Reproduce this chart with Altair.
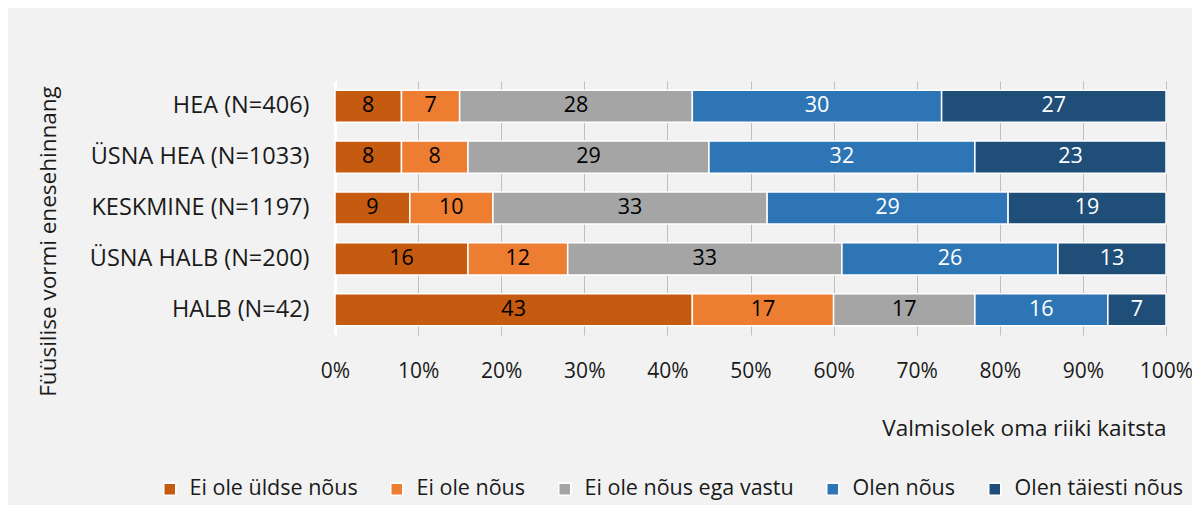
import altair as alt
import pandas as pd

groups = ["HEA (N=406)", "ÜSNA HEA (N=1033)", "KESKMINE (N=1197)", "ÜSNA HALB (N=200)", "HALB (N=42)"]
series = ["Ei ole üldse nõus", "Ei ole nõus", "Ei ole nõus ega vastu", "Olen nõus", "Olen täiesti nõus"]
colors = ["#c55a11", "#ed7d31", "#a5a5a5", "#2e75b6", "#1f4e79"]
text_colors = ["black", "black", "black", "white", "white"]

v_ei_ylde = [8, 8, 9, 16, 43]
v_ei = [7, 8, 10, 12, 17]
v_neutral = [28, 29, 33, 33, 17]
v_nous = [30, 32, 29, 26, 16]
v_taiesti = [27, 23, 19, 13, 7]

values = [v_ei_ylde, v_ei, v_neutral, v_nous, v_taiesti]

rows = []
for si, s in enumerate(series):
    for gi, g in enumerate(groups):
        rows.append({"group": g, "series": s, "order": si, "value": values[si][gi],
                     "tcolor": text_colors[si]})
df = pd.DataFrame(rows)

FONT = "Open Sans"
FS = 21.5

base = alt.Chart(df).transform_stack(
    stack="value", groupby=["group"], as_=["start", "end"], sort=[alt.SortField("order")],
    offset="normalize"
).transform_calculate(mid="(datum.start + datum.end) / 2")

y_enc = alt.Y("group:N", sort=groups,
              scale=alt.Scale(paddingInner=0.37, paddingOuter=0.18),
              axis=alt.Axis(title="Füüsilise vormi enesehinnang", domain=True, domainColor="white",
                            domainWidth=3, ticks=False, labelPadding=26, labelFontSize=23.5,
                            labelColor="#1a1a1a", titleFontSize=22.5, titleFontWeight="normal",
                            titleColor="#1a1a1a", titleX=-287, titleY=160, titleAngle=270,
                            titleAlign="center", titleBaseline="middle", labelFont=FONT,
                            titleFont=FONT, grid=False, labelLimit=400))

bars = base.mark_bar(stroke="white", strokeWidth=1.5).encode(
    x=alt.X("start:Q", scale=alt.Scale(domain=[0, 1], nice=False),
            axis=alt.Axis(format="%", values=[i / 10 for i in range(11)], title="Valmisolek oma riiki kaitsta",
                          domain=False, ticks=False, grid=True, gridColor="#bfbfbf", gridWidth=1,
                          labelPadding=25, labelFontSize=21, labelColor="#1a1a1a", labelFont=FONT,
                          titleFont=FONT, titleFontSize=22.5, titleFontWeight="normal", titleColor="#1a1a1a",
                          titleAnchor="end", titleAlign="right", titleX=831, titleY=93,
                          titleBaseline="middle", labelFlush=False)),
    x2="end:Q",
    y=y_enc,
    color=alt.Color("series:N", sort=series, scale=alt.Scale(domain=series, range=colors),
                    legend=alt.Legend(title=None, orient="none", direction="horizontal", columns=5,
                                      legendX=-176, legendY=397, symbolType="square", symbolSize=144,
                                      symbolStrokeColor="white", symbolStrokeWidth=1.5,
                                      labelFontSize=FS, labelFont=FONT, labelColor="#1a1a1a",
                                      columnPadding=28, labelOffset=9, labelLimit=400)),
)

labels = base.mark_text(fontSize=FS, font=FONT, baseline="middle", align="center").encode(
    x=alt.X("mid:Q"),
    y=alt.Y("group:N", sort=groups),
    text=alt.Text("value:Q"),
    color=alt.Color("tcolor:N", scale=None),
)

chart = alt.layer(bars, labels).properties(
    width=831, height=254,
    padding={"left": 327, "top": 73, "right": 26, "bottom": 170},
    autosize=alt.AutoSizeParams(type="none"),
    background="#f2f2f2",
).configure_view(stroke=None, fill="#f2f2f2")

chart.save("out.html", embed_options={"renderer": "svg", "actions": False})
